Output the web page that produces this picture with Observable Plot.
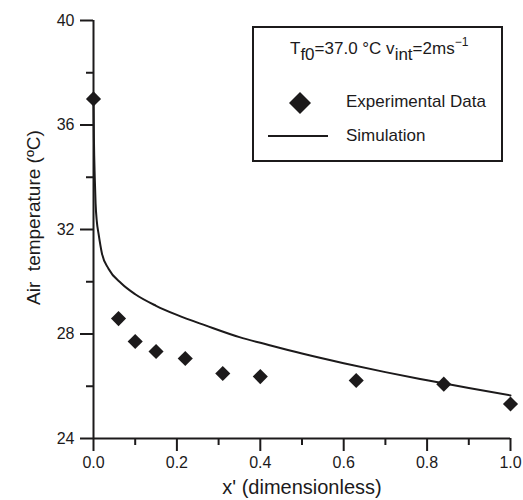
<!DOCTYPE html>
<html>
<head>
<meta charset="utf-8">
<script src="https://cdn.jsdelivr.net/npm/d3@7"></script>
<script src="https://cdn.jsdelivr.net/npm/@observablehq/plot@0.6"></script>
<style>
  html, body { margin: 0; padding: 0; background: #fff; }
  #wrap { position: relative; width: 523px; height: 500px; font-family: "Liberation Sans", Arial, sans-serif; color: #1c1a1b; }
  #legend { position: absolute; left: 252px; top: 26px; width: 251px; height: 136px; box-sizing: border-box; border: 2px solid #1c1a1b; background: #fff; }
  #legend .title { position: absolute; left: 36px; top: 11px; font-size: 17px; white-space: nowrap; }
  #legend .sub { position: relative; top: 6px; }
  #legend .sup { position: relative; top: -8px; font-size: 12px; }
  #legend .lab { position: absolute; left: 92px; font-size: 17px; white-space: nowrap; }
</style>
</head>
<body>
<div id="wrap"></div>
<script>
// Tick values
const xMajor = [0, 0.2, 0.4, 0.6, 0.8, 1.0];
const xMinor = [0.1, 0.3, 0.5, 0.7, 0.9];
const yMajor = [24, 28, 32, 36, 40];
const yMinor = [26, 30, 34, 38];

// Experimental data (diamonds)
const expX = [0, 0.06, 0.10, 0.15, 0.22, 0.31, 0.40, 0.63, 0.84, 1.0];
const expY = [37.0, 28.59, 27.71, 27.33, 27.06, 26.49, 26.37, 26.22, 26.08, 25.32];

// Simulation (line)
const simX = [0, 0.001, 0.003, 0.005, 0.008, 0.012, 0.02, 0.036, 0.067, 0.1, 0.15, 0.2, 0.27, 0.35, 0.42, 0.5, 0.6, 0.7, 0.8, 0.9, 1.0];
const simY = [37.0, 35.5, 34.0, 33.0, 32.3, 31.85, 31.1, 30.5, 29.93, 29.52, 29.08, 28.73, 28.32, 27.88, 27.58, 27.25, 26.88, 26.54, 26.23, 25.93, 25.65];

const xTitle = "x' (dimensionless)";
const yTitle = "Air  temperature (ºC)";

const ink = "#1c1a1b";
const expData = expX.map((x, i) => ({x, y: expY[i]}));
const simData = simX.map((x, i) => ({x, y: simY[i]}));

const chart = Plot.plot({
  width: 523,
  height: 500,
  marginLeft: 93,
  marginRight: 13,
  marginTop: 20,
  marginBottom: 62,
  x: {domain: [0, 1]},
  y: {domain: [24, 40]},
  style: {fontFamily: "'Liberation Sans', Arial, sans-serif", color: ink, background: "white", overflow: "visible"},
  marks: [
    // major ticks with labels, minor ticks without
    Plot.axisX(xMajor, {tickSize: 13, tickPadding: 5, stroke: ink, strokeWidth: 2, fontSize: 16, fill: ink, tickFormat: d3.format(".1f"), label: null}),
    Plot.axisX(xMinor, {tickSize: 7, stroke: ink, strokeWidth: 2, tickFormat: () => "", label: null}),
    Plot.axisY(yMajor, {tickSize: 13, tickPadding: 6, stroke: ink, strokeWidth: 2, fontSize: 16, fill: ink, label: null}),
    Plot.axisY(yMinor, {tickSize: 7, stroke: ink, strokeWidth: 2, tickFormat: () => "", label: null}),
    // axis lines
    Plot.ruleX([0], {stroke: ink, strokeWidth: 2}),
    Plot.ruleY([24], {stroke: ink, strokeWidth: 2}),
    // data
    Plot.line(simData, {x: "x", y: "y", stroke: ink, strokeWidth: 2, curve: "monotone-x"}),
    Plot.dot(expData, {x: "x", y: "y", symbol: "diamond2", r: 6.8, fill: ink, stroke: "none"}),
    // axis titles
    Plot.text([xTitle], {frameAnchor: "bottom", dy: 55, fontSize: 20, fill: ink}),
    Plot.text([yTitle], {frameAnchor: "left", textAnchor: "middle", dx: -60, dy: -12, rotate: -90, fontSize: 19, fill: ink})
  ]
});

const wrap = document.getElementById("wrap");
wrap.appendChild(chart);

const legend = document.createElement("div");
legend.id = "legend";
legend.innerHTML = `
  <div class="title">T<span class="sub">f0</span>=37.0 °C v<span class="sub">int</span>=2ms<span class="sup">−1</span></div>
  <svg style="position:absolute;left:35px;top:64px" width="22" height="22"><path d="M11 0 L22 11 L11 22 L0 11 Z" fill="${ink}"/></svg>
  <div class="lab" style="top:64px">Experimental Data</div>
  <svg style="position:absolute;left:14px;top:105px" width="62" height="6"><line x1="0" y1="3" x2="60" y2="3" stroke="${ink}" stroke-width="2"/></svg>
  <div class="lab" style="top:98px">Simulation</div>
`;
wrap.appendChild(legend);
</script>
</body>
</html>
